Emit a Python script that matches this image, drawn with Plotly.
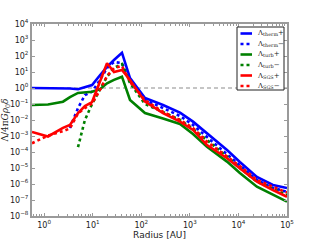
import plotly.graph_objects as go

# radius grid [AU]
radius = [0.562, 1.2, 2.44, 3.4, 4.98, 6.9, 9.7, 14.1, 19.7, 27.4, 40, 58.6,
          119, 280, 627, 1160, 2250, 5820, 10700, 24000, 51300, 100000]

therm_plus = [1.0, 1.0, 1.0, 0.93, 0.83, 1.07, 1.54, 6.3, 21, 56, 160, 4.2,
              0.237, 0.087, 0.029, 0.0079, 0.00154, 1.33e-4, 2.37e-5, 2.75e-6, 8.7e-7, 5.6e-7]
therm_minus = [None, None, None, 0.0032, 0.056, 0.36, 0.59, 3.2, 17.8, 42, 36, 2.7,
               0.178, 0.056, 0.0178, 0.0049, 8.7e-4, 7.5e-5, 1.33e-5, 1.78e-6, 5.6e-7, 3.3e-7]
turb_plus = [0.087, 0.093, 0.14, 0.27, 0.49, 0.52, 0.59, 0.85, 1.97, 3.2, 5.1, 0.178,
             0.027, 0.0125, 0.0056, 0.00133, 2.1e-4, 2.5e-5, 4.9e-6, 6.8e-7, 2.05e-7, 7.9e-8]
turb_minus = [None, None, None, None, 2.0e-4, 0.01, 0.1, 0.75, 5.1, 17.8, 31.6, 2.05,
              0.1, 0.032, 0.01, 0.0027, 5.6e-4, 5.1e-5, 1.0e-5, 1.4e-6, 4.9e-7, 2.05e-7]
sgs_plus = [0.0018, 9.3e-4, 0.0032, 0.0049, 0.027, 0.075, 0.133, 2.2, 35, 10, 13.3, 3.2,
            0.14, 0.027, 0.0079, 0.0024, 2.7e-4, 4.1e-5, 9.6e-6, 1.4e-6, 4.2e-7, 1.6e-7]
sgs_minus = [3.5e-4, 0.00107, 0.002, 0.003, 0.026, 0.056, 0.107, 0.75, 5.6, 17.8, 23.7, 2.4,
             0.178, 0.032, 0.01, 0.0032, 4.4e-4, 5.6e-5, 1.33e-5, 1.78e-6, 6.8e-7, 2.9e-7]

series_names = ["Λ<sub>therm</sub>+", "Λ<sub>therm</sub>−", "Λ<sub>turb</sub>+",
                "Λ<sub>turb</sub>−", "Λ<sub>SGS</sub>+", "Λ<sub>SGS</sub>−"]
series_values = [therm_plus, therm_minus, turb_plus, turb_minus, sgs_plus, sgs_minus]
colors = ["#0000ff", "#0000ff", "#008000", "#008000", "#ff0000", "#ff0000"]
dashes = ["solid", "3px,3px", "solid", "3px,3px", "solid", "3px,3px"]

x_tickvals = [1, 10, 100, 1000, 10000, 100000]
x_ticktext = ["10<sup>0</sup>", "10<sup>1</sup>", "10<sup>2</sup>", "10<sup>3</sup>",
              "10<sup>4</sup>", "10<sup>5</sup>"]
y_exps = list(range(-8, 5))
y_tickvals = [10.0 ** e for e in y_exps]
y_ticktext = ["10<sup>" + (str(e) if e >= 0 else "−" + str(-e)) + "</sup>" for e in y_exps]

fig = go.Figure()
for name, vals, c, d in zip(series_names, series_values, colors, dashes):
    fig.add_trace(go.Scatter(x=radius, y=vals, mode="lines", name=name,
                             line=dict(color=c, width=2.6, dash=d),
                             connectgaps=False, showlegend=False, hoverinfo="skip"))

fig.add_hline(y=1, line=dict(color="#8c8c8c", width=1.2, dash="4px,3px"), layer="below")

axis_common = dict(type="log", showline=True, linecolor="#9a9a9a", linewidth=2,
                   mirror="allticks", ticks="inside", ticklen=3, tickcolor="#9a9a9a",
                   showgrid=False, zeroline=False, automargin=False,
                   tickfont=dict(family="DejaVu Sans", size=8, color="#222"))

fig.update_xaxes(range=[-0.25, 5.0], tickmode="array", tickvals=x_tickvals,
                 ticktext=x_ticktext,
                 minor=dict(ticks="inside", ticklen=2, tickcolor="#9a9a9a", dtick="D1"),
                 title=dict(text="Radius [AU]", font=dict(family="DejaVu Sans", size=9, color="#222"),
                            standoff=1),
                 **axis_common)
fig.update_yaxes(range=[-8, 4], tickmode="array", tickvals=y_tickvals, ticktext=y_ticktext,
                 title=dict(text="Λ/4π<i>Gρ</i><sub>0</sub><i>δ</i>",
                            font=dict(family="DejaVu Serif", size=9, color="#222"), standoff=1),
                 **axis_common)

# legend box drawn in paper coordinates
x0, x1, w = 32, 287, 255
y0, y1, h = 24, 216, 192
def px(p):
    return (p - x0) / w
def py(p):
    return (y1 - p) / h

fig.add_shape(type="rect", xref="paper", yref="paper", x0=px(237), x1=px(284),
              y0=py(90), y1=py(27), line=dict(color="#222", width=1), fillcolor="white")
item_y = [33.5, 44, 54.5, 65, 75.5, 86]
for name, c, d, yy in zip(series_names, colors, dashes, item_y):
    fig.add_shape(type="line", xref="paper", yref="paper", x0=px(240.5), x1=px(252),
                  y0=py(yy), y1=py(yy), line=dict(color=c, width=2.6, dash=d))
    fig.add_annotation(xref="paper", yref="paper", x=px(255), y=py(yy), text=name,
                       showarrow=False, xanchor="left", yanchor="middle",
                       font=dict(family="DejaVu Serif", size=7, color="#222"))

fig.update_layout(width=320, height=240, margin=dict(l=32, r=33, t=24, b=24),
                  plot_bgcolor="white", paper_bgcolor="white", showlegend=False)

fig.write_html("out.html", config={"displayModeBar": False},
               post_script="document.body.style.margin='0';")
